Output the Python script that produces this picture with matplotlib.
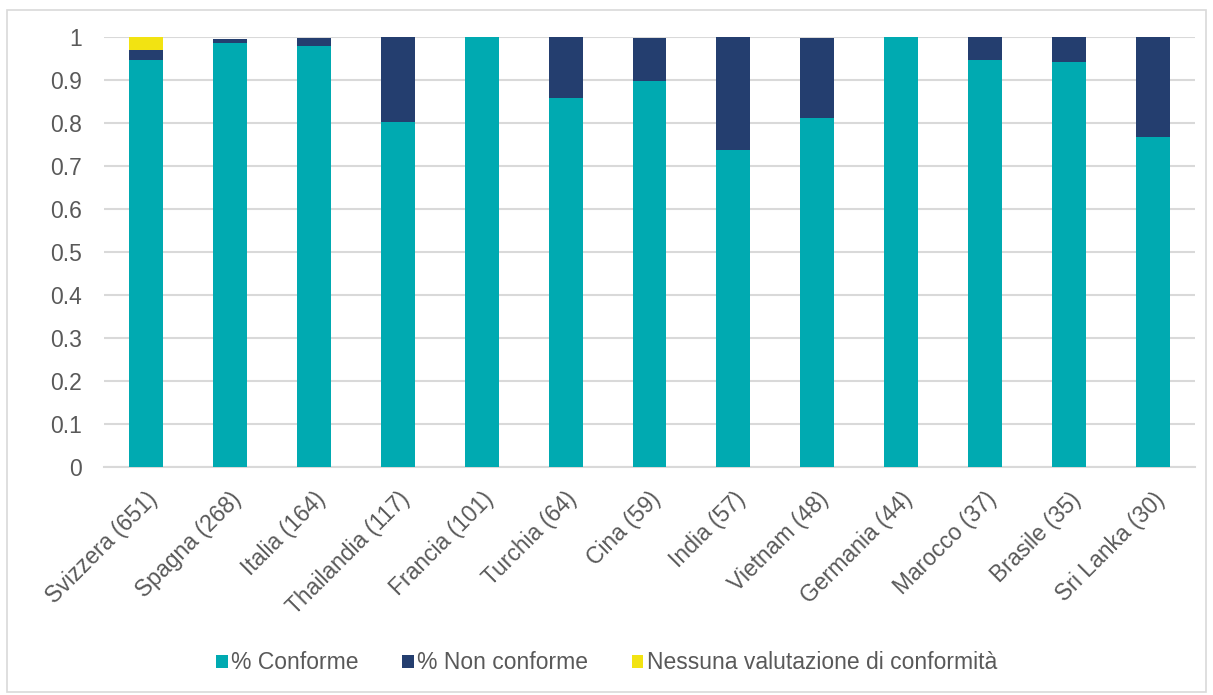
import matplotlib
matplotlib.use("Agg")
import matplotlib.pyplot as plt
import numpy as np
from matplotlib.patches import Rectangle

paesi = ["Svizzera (651)", "Spagna (268)", "Italia (164)", "Thailandia (117)",
         "Francia (101)", "Turchia (64)", "Cina (59)", "India (57)",
         "Vietnam (48)", "Germania (44)", "Marocco (37)", "Brasile (35)",
         "Sri Lanka (30)"]
conforme = [0.947, 0.985, 0.980, 0.803, 1.0, 0.859, 0.898, 0.737,
            0.8125, 1.0, 0.946, 0.943, 0.767]
non_conforme = [0.023, 0.011, 0.018, 0.197, 0.0, 0.141, 0.100, 0.263,
                0.185, 0.0, 0.054, 0.057, 0.233]
nessuna = [0.030, 0.0, 0.0, 0.0, 0.0, 0.0, 0.0, 0.0,
           0.0, 0.0, 0.0, 0.0, 0.0]
y_ticks = [0, 0.1, 0.2, 0.3, 0.4, 0.5, 0.6, 0.7, 0.8, 0.9, 1]

TEAL = "#00AAB1"
NAVY = "#243E6F"
YELLOW = "#F2E312"
GRID = "#D9D9D9"
TXT = "#595959"
FS = 16.5

plt.rcParams["font.family"] = ["Liberation Sans", "DejaVu Sans"]

fig = plt.figure(figsize=(12.13, 6.95), dpi=100)
ax = fig.add_axes([104 / 1213, 1 - 467 / 695, (1195 - 104) / 1213, 430 / 695])

x = np.arange(len(paesi))
w = 0.405
c = np.array(conforme)
n = np.array(non_conforme)
ax.bar(x, c, w, color=TEAL, label="% Conforme", zorder=3)
ax.bar(x, n, w, bottom=c, color=NAVY, label="% Non conforme", zorder=3)
ax.bar(x, nessuna, w, bottom=c + n, color=YELLOW,
       label="Nessuna valutazione di conformità", zorder=3)

ax.set_xlim(-0.5, len(paesi) - 0.5)
ax.set_ylim(0, 1)
ax.set_yticks(y_ticks)
ax.set_yticklabels([f"{t:g}" for t in y_ticks])
ax.yaxis.grid(True, color=GRID, linewidth=1.5, zorder=0)
ax.set_axisbelow(True)
for side in ["top", "right", "left"]:
    ax.spines[side].set_visible(False)
ax.spines["bottom"].set_color(GRID)
ax.spines["bottom"].set_linewidth(1.5)
ax.tick_params(axis="both", length=0, labelsize=FS, colors=TXT)
ax.tick_params(axis="y", pad=16)
ax.set_xticks(x)
ax.set_xticklabels(paesi, rotation=45, ha="right", rotation_mode="anchor")
ax.tick_params(axis="x", pad=15)

fig.legend(loc="lower center", bbox_to_anchor=(0.5, 0.0), ncol=3,
           frameon=False, fontsize=FS, handlelength=0.5, handleheight=0.5,
           handletextpad=0.15, columnspacing=1.9, labelcolor=TXT)

fig.patches.append(Rectangle((7 / 1213, 0.004), 1 - 14 / 1213, 0.982,
                             transform=fig.transFigure, fill=False,
                             edgecolor=GRID, linewidth=1.2))

fig.savefig("out.png", dpi=100)
